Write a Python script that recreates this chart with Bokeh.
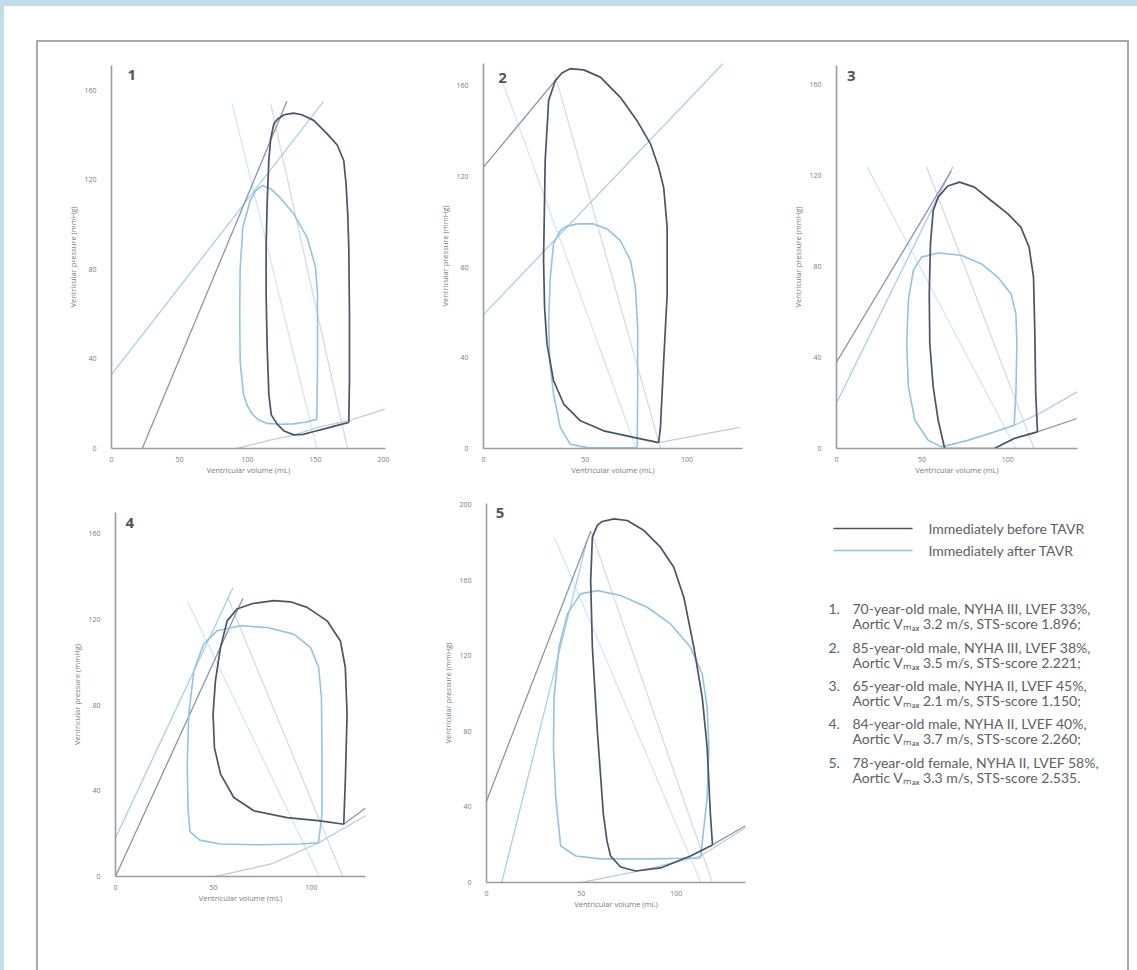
from bokeh.plotting import figure
from bokeh.layouts import row, column
from bokeh.models import Range1d, FixedTicker, Spacer
from bokeh.core.properties import value
from bokeh.embed import file_html
from bokeh.resources import INLINE

# ---------------- data (volume in mL, pressure in mmHg) ----------------
# Panel 1
p1_before_v = [174.5, 175, 175, 174.5, 173.7, 172.5, 170.8, 166, 158.6, 148.7, 140, 133.8, 127, 122, 119.4, 117, 115.7, 114.5, 113.7, 113.7, 114.5, 115.7, 117.5, 121.8, 127, 134, 141, 148.8, 158, 166, 174.5]
p1_before_p = [11.6, 30, 60, 90, 105, 118, 128.6, 135.5, 140.5, 146.5, 149, 149.7, 149, 147, 145, 138, 128.6, 110, 90, 69, 45, 24.3, 15, 10.9, 7.8, 6.1, 6.3, 7.6, 9, 10.3, 11.6]
p1_after_v = [151, 151.5, 151.5, 150, 144, 134, 124, 117, 110.8, 106, 102, 96.6, 94.6, 94.3, 94.6, 97, 100, 103.4, 108, 114.4, 124, 134, 143, 151]
p1_after_p = [13, 39, 69, 81, 94, 104.8, 112, 116, 117.4, 115, 110.7, 98.8, 80, 60, 39, 24.3, 19, 15.4, 12.8, 11.2, 10.8, 11, 11.8, 13]
p1_espvr_before_v = [22.6, 129]
p1_espvr_before_p = [0, 155]
p1_espvr_after_v = [0, 156]
p1_espvr_after_p = [33, 155]
p1_ea_before_v = [117, 173.5]
p1_ea_before_p = [154, 0]
p1_ea_after_v = [88.7, 151]
p1_ea_after_p = [154, 0]
p1_edpvr_v = [92, 115, 134, 151, 175, 201]
p1_edpvr_p = [0, 3.5, 6, 9.3, 12.5, 17.6]

# Panel 2
p2_before_v = [86, 86.9, 88.5, 90.2, 90.2, 88.5, 86, 82, 75.4, 67.2, 57.4, 49.2, 42.6, 38.5, 35.3, 32, 30.3, 29.5, 30, 31.2, 34.4, 39.4, 47.6, 59, 73.8, 86]
p2_before_p = [2.6, 9.3, 38.7, 68, 97.5, 115, 124, 134.3, 144.5, 154.8, 163.7, 166.9, 167.4, 165.5, 162.2, 153.4, 127, 82.8, 62, 46, 29.9, 19.6, 12.2, 7.8, 4.9, 2.6]
p2_after_v = [75.5, 75.7, 75.7, 74.6, 72.2, 67.2, 60.7, 54.1, 45.9, 40.5, 37.7, 34.4, 32.8, 32, 32.5, 34.4, 37.7, 42.6, 50.9, 63, 75.5]
p2_after_p = [0.4, 24, 53.4, 71, 82.8, 91.6, 96.8, 99, 99, 97.8, 96, 90.2, 75.4, 56.3, 38.7, 24, 9.3, 1.9, 0.4, 0.3, 0.4]
p2_espvr_before_v = [0, 36]
p2_espvr_before_p = [124, 163]
p2_espvr_after_v = [0, 118]
p2_espvr_after_p = [59, 170]
p2_ea_before_v = [35, 87]
p2_ea_before_p = [165, 0]
p2_ea_after_v = [8, 75]
p2_ea_after_p = [165, 0]
p2_edpvr_v = [86, 126]
p2_edpvr_p = [2.6, 9.3]

# Panel 3
p3_before_v = [117.4, 116.4, 115.8, 115.1, 112.5, 107.7, 100, 90.3, 80.6, 71.9, 65, 59.4, 56.5, 54.9, 54.2, 54.5, 56.5, 59.4, 63.2, 92.2, 103.8, 117.4]
p3_before_p = [7.3, 24.2, 53.5, 75.4, 88.6, 97.4, 103.3, 109.1, 115, 117.2, 115.5, 110.6, 104.7, 90.1, 68.1, 46.2, 27.1, 12.4, 0, 0, 4.4, 7.3]
p3_after_v = [103.8, 104.8, 105.4, 104.8, 101.9, 94.2, 84.5, 72.9, 59.4, 49.7, 44.9, 42, 41, 42, 45.8, 53.6, 61.3, 76.8, 92.2, 103.8]
p3_after_p = [10.2, 24.2, 46.2, 59.3, 68.1, 75.4, 81.3, 85, 86, 84.2, 78.4, 65.2, 46.2, 27.1, 12.4, 3.6, 0.7, 3.6, 7.3, 10.2]
p3_espvr_before_v = [0, 67]
p3_espvr_before_p = [38, 122]
p3_espvr_after_v = [0, 68]
p3_espvr_after_p = [20, 124]
p3_ea_before_v = [52.6, 115.4]
p3_ea_before_p = [124, 0]
p3_ea_after_v = [17.8, 104.8]
p3_ea_after_p = [124, 0]
p3_edpvr_v = [61.3, 76.8, 92.2, 103.8, 120, 140.6]
p3_edpvr_p = [0.7, 3.6, 7.3, 10.2, 16, 24.9]
p3_edpvr_before_v = [92.2, 103.8, 117.4, 140.6]
p3_edpvr_before_p = [0, 4.4, 7.3, 13.2]

# Panel 4
p4_before_v = [116.5, 117.3, 118.2, 117.3, 114.8, 108, 97.8, 89.3, 80.8, 70, 62, 57, 53.6, 51, 49.8, 50.5, 53.6, 60.4, 70.6, 87.6, 104.6, 116.5]
p4_before_p = [24.4, 44.7, 75.8, 97.6, 110, 119.4, 125.7, 128.3, 128.8, 127.5, 124.9, 119.4, 107, 91.4, 75.8, 60.2, 47.8, 36.9, 30.7, 27.5, 26, 24.4]
p4_after_v = [103.6, 105.4, 105.4, 105.1, 103.7, 99.5, 91, 77.4, 63.8, 51.9, 45, 40, 37.4, 36.6, 37, 38, 43, 53.6, 74, 94, 103.6]
p4_after_p = [15.7, 29.1, 60.2, 83.6, 97.6, 107, 113.2, 116.3, 117.1, 114.8, 108.6, 96.1, 75.8, 52.5, 32, 21, 17, 15.2, 14.8, 15.2, 15.7]
p4_espvr_before_v = [0, 65]
p4_espvr_before_p = [0, 130]
p4_espvr_after_v = [0, 60]
p4_espvr_after_p = [18, 135]
p4_ea_before_v = [57, 116]
p4_ea_before_p = [131, 0]
p4_ea_after_v = [36.7, 104]
p4_ea_after_p = [128.6, 0]
p4_edpvr_v = [51, 80, 103.6, 127.6]
p4_edpvr_p = [0, 6, 15.7, 28.4]
p4_edpvr_before_v = [116.5, 127.6]
p4_edpvr_before_p = [24.4, 32]

# Panel 5
p5_before_v = [119.1, 118, 116.3, 113.7, 109.3, 104, 98.7, 91.7, 83, 74.2, 67.2, 61, 58.4, 55.8, 54.9, 55.8, 58.4, 61.6, 63.5, 65.4, 70.7, 78.6, 91.7, 107.5, 119.1]
p5_before_p = [19.9, 36.1, 71.4, 97.9, 124.4, 150.9, 166.8, 177.4, 186.2, 191.5, 192.4, 191, 188.9, 182.7, 159.7, 124.4, 80.3, 36.1, 22, 14, 8.2, 6.1, 7.7, 14, 19.9]
p5_after_v = [112.8, 116.3, 117.2, 116.3, 113.7, 107.5, 97, 84.7, 70.7, 58.4, 49.6, 42.6, 38.2, 35.6, 35.3, 36.5, 39.1, 47, 60.2, 86.5, 112.8]
p5_after_p = [13, 44.9, 71.4, 92.6, 110.3, 124.4, 136.8, 145.6, 151.8, 154.4, 152.7, 142.1, 124.4, 97.9, 71.4, 44.9, 19.4, 14, 12.5, 12.5, 13]
p5_espvr_before_v = [0, 55]
p5_espvr_before_p = [43, 186]
p5_espvr_after_v = [8, 53]
p5_espvr_after_p = [0, 181]
p5_ea_before_v = [55, 119]
p5_ea_before_p = [186, 0]
p5_ea_after_v = [35.6, 113]
p5_ea_after_p = [183, 0]
p5_edpvr_v = [50, 80, 112.8, 136.5]
p5_edpvr_p = [0, 6, 14, 29]
p5_edpvr_before_v = [119.1, 136.5]
p5_edpvr_before_p = [19.9, 30]

# ticks
x_ticks_wide = [0, 50, 100, 150, 200]
x_ticks_narrow = [0, 50, 100]
y_ticks_160 = [0, 40, 80, 120, 160]
y_ticks_200 = [0, 40, 80, 120, 160, 200]

panel_numbers = ["1", "2", "3", "4", "5"]
legend_labels = ["Immediately before TAVR", "Immediately after TAVR"]
case_numbers = ["1.", "2.", "3.", "4.", "5."]
case_line1 = ["70-year-old male, NYHA III, LVEF 33%,",
              "85-year-old male, NYHA III, LVEF 38%,",
              " 65-year-old male, NYHA II, LVEF 45%,",
              "84-year-old male, NYHA II, LVEF 40%,",
              "78-year-old female, NYHA II, LVEF 58%,"]
case_vmax = ["3.2", "3.5", "2.1", "3.7", "3.3"]
case_sts = ["1.896;", "2.221;", "1.150;", "2.260;", "2.535."]
x_label = "Ventricular volume (mL)"
y_label = "Ventricular pressure (mmHg)"

# ---------------- styles ----------------
BLUE = "#bfdee9"
WHITE = "#ffffff"
GRAY = "#a9a9a9"
C_BEFORE = "#4b5366"
C_AFTER = "#92c4e2"
C_ESP_B = "#8d94a5"
C_ESP_A = "#a8cfe7"
C_EA_B = "#d8dae6"
C_EA_A = "#d3e7f3"
C_EDP = "#b8cfe1"
AX = "#9c9c9c"
TXT = "#7a7a7a"
FONT = "Open Sans"
TFONT = "Lato"
TSIZE = "14px"
TCOL = "#606060"


def make_panel(width, height, bl, br, bt, bb, xmax, ymax, xt, yt, num, num_xy, d):
    p = figure(width=width, height=height, x_range=Range1d(0, xmax), y_range=Range1d(0, ymax),
               output_backend="svg", toolbar_location=None,
               min_border_left=bl, min_border_right=br, min_border_top=bt, min_border_bottom=bb)
    p.grid.visible = False
    p.outline_line_color = None
    p.background_fill_color = WHITE
    p.border_fill_color = WHITE
    p.xaxis.ticker = FixedTicker(ticks=xt)
    p.yaxis.ticker = FixedTicker(ticks=yt)
    p.xaxis.axis_label = x_label
    p.yaxis.axis_label = y_label
    for ax in (p.xaxis[0], p.yaxis[0]):
        ax.axis_line_color = AX
        ax.axis_line_width = 1.6
        ax.major_tick_line_color = None
        ax.minor_tick_line_color = None
        ax.major_label_text_font = FONT
        ax.major_label_text_font_size = "7px"
        ax.major_label_text_color = TXT
        ax.axis_label_text_font = FONT
        ax.axis_label_text_font_size = "7.5px"
        ax.axis_label_text_font_style = "normal"
        ax.axis_label_text_color = TXT
    p.xaxis.major_label_standoff = 2
    p.xaxis.axis_label_standoff = 0
    p.yaxis.major_label_standoff = 9
    p.yaxis.axis_label_standoff = 3

    p.line(d["ea_a"][0], d["ea_a"][1], line_color=C_EA_A, line_width=1.3)
    p.line(d["ea_b"][0], d["ea_b"][1], line_color=C_EA_B, line_width=1.3)
    p.line(d["edp"][0], d["edp"][1], line_color=C_EDP, line_width=1.3)
    if "edp_b" in d:
        p.line(d["edp_b"][0], d["edp_b"][1], line_color=C_ESP_B, line_width=1.2)
    p.line(d["esp_a"][0], d["esp_a"][1], line_color=C_ESP_A, line_width=1.3)
    p.line(d["esp_b"][0], d["esp_b"][1], line_color=C_ESP_B, line_width=1.3)
    p.line(d["after"][0], d["after"][1], line_color=C_AFTER, line_width=1.6)
    p.line(d["before"][0], d["before"][1], line_color=C_BEFORE, line_width=1.7)
    p.text(x=[num_xy[0]], y=[num_xy[1]], text=[num], text_font=value(FONT), text_font_style="bold",
           text_font_size="15px", text_color="#555555", text_align="left", text_baseline="top")
    return p


f1 = make_panel(382, 440, 73, 35, 23, 34, 201.5, 171, x_ticks_wide, y_ticks_160, panel_numbers[0], (11.8, 168.8),
                dict(before=(p1_before_v, p1_before_p), after=(p1_after_v, p1_after_p),
                     esp_b=(p1_espvr_before_v, p1_espvr_before_p), esp_a=(p1_espvr_after_v, p1_espvr_after_p),
                     ea_b=(p1_ea_before_v, p1_ea_before_p), ea_a=(p1_ea_after_v, p1_ea_after_p),
                     edp=(p1_edpvr_v, p1_edpvr_p)))
f2 = make_panel(370, 440, 63, 48, 21, 34, 127.2, 169.7, x_ticks_narrow, y_ticks_160, panel_numbers[1], (7.2, 165.7),
                dict(before=(p2_before_v, p2_before_p), after=(p2_after_v, p2_after_p),
                     esp_b=(p2_espvr_before_v, p2_espvr_before_p), esp_a=(p2_espvr_after_v, p2_espvr_after_p),
                     ea_b=(p2_ea_before_v, p2_ea_before_p), ea_a=(p2_ea_after_v, p2_ea_after_p),
                     edp=(p2_edpvr_v, p2_edpvr_p)))
f3 = make_panel(337, 440, 44, 50, 23, 34, 140.8, 168.5, x_ticks_narrow, y_ticks_160, panel_numbers[2], (6.2, 166.3),
                dict(before=(p3_before_v, p3_before_p), after=(p3_after_v, p3_after_p),
                     esp_b=(p3_espvr_before_v, p3_espvr_before_p), esp_a=(p3_espvr_after_v, p3_espvr_after_p),
                     ea_b=(p3_ea_before_v, p3_ea_before_p), ea_a=(p3_ea_after_v, p3_ea_after_p),
                     edp=(p3_edpvr_v, p3_edpvr_p), edp_b=(p3_edpvr_before_v, p3_edpvr_before_p)))
f4 = make_panel(382, 488, 77, 55, 30, 94, 127.6, 170, x_ticks_narrow, y_ticks_160, panel_numbers[3], (5.1, 167.6),
                dict(before=(p4_before_v, p4_before_p), after=(p4_after_v, p4_after_p),
                     esp_b=(p4_espvr_before_v, p4_espvr_before_p), esp_a=(p4_espvr_after_v, p4_espvr_after_p),
                     ea_b=(p4_ea_before_v, p4_ea_before_p), ea_a=(p4_ea_after_v, p4_ea_after_p),
                     edp=(p4_edpvr_v, p4_edpvr_p), edp_b=(p4_edpvr_before_v, p4_edpvr_before_p)))
f5 = make_panel(370, 488, 66, 45, 21, 88, 136.5, 200.5, x_ticks_narrow, y_ticks_200, panel_numbers[4], (4.9, 197.9),
                dict(before=(p5_before_v, p5_before_p), after=(p5_after_v, p5_after_p),
                     esp_b=(p5_espvr_before_v, p5_espvr_before_p), esp_a=(p5_espvr_after_v, p5_espvr_after_p),
                     ea_b=(p5_ea_before_v, p5_ea_before_p), ea_a=(p5_ea_after_v, p5_ea_after_p),
                     edp=(p5_edpvr_v, p5_edpvr_p), edp_b=(p5_edpvr_before_v, p5_edpvr_before_p)))

# legend / description panel (coordinates = page pixels)
f6 = figure(width=337, height=488, x_range=Range1d(790, 1127), y_range=Range1d(970, 482),
            output_backend="svg", toolbar_location=None, x_axis_type=None, y_axis_type=None,
            min_border=0, min_border_left=0, min_border_right=0, min_border_top=0, min_border_bottom=0)
f6.grid.visible = False
f6.outline_line_color = None
f6.background_fill_color = WHITE
f6.border_fill_color = WHITE

f6.line([833, 912], [528, 528], line_color=C_BEFORE, line_width=1.5)
f6.line([833, 912], [550, 550], line_color=C_AFTER, line_width=1.5)
f6.text(x=[928, 928], y=[528, 550], text=legend_labels, text_font=value(TFONT), text_font_size=TSIZE,
        text_color=TCOL, text_baseline="middle", text_align="left")

row_y = [608, 647, 685, 723, 762]
line2 = ["Aortic V\u2098\u2090\u2093 %s m/s, STS-score %s" % (v, s) for v, s in zip(case_vmax, case_sts)]
f6.text(x=[828] * 5, y=row_y, text=case_numbers, text_font=value(TFONT), text_font_size=TSIZE,
        text_color=TCOL, text_baseline="middle", text_align="left")
f6.text(x=[852] * 5, y=row_y, text=case_line1, text_font=value(TFONT), text_font_size=TSIZE,
        text_color=TCOL, text_baseline="middle", text_align="left")
f6.text(x=[852] * 5, y=[y + 15 for y in row_y], text=line2, text_font=value(TFONT), text_font_size=TSIZE,
        text_color=TCOL, text_baseline="middle", text_align="left")


def block(w, h, color):
    return Spacer(width=w, height=h, styles={"background-color": color})


content = column(row(column(f1), column(f2), column(f3)),
                 row(column(f4), column(f5), column(f6)))
inner = column(block(1093, 2, GRAY), row(block(2, 928, GRAY), content, block(2, 928, GRAY)))
white_area = column(block(1133, 34, WHITE), row(block(32, 930, WHITE), inner, block(8, 930, WHITE)))
page = column(block(1137, 6, BLUE), row(block(4, 964, BLUE), white_area))

open("out.html", "w").write(file_html(page, INLINE))
